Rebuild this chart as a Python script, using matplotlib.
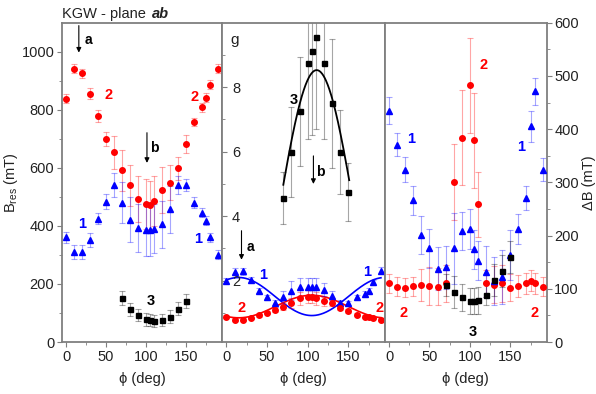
import matplotlib
matplotlib.use("Agg")
import matplotlib.pyplot as plt
import numpy as np

plt.rcParams['font.family'] = ['Liberation Sans', 'DejaVu Sans']
plt.rcParams['mathtext.fontset'] = 'custom'
plt.rcParams['mathtext.rm'] = 'Liberation Sans'
plt.rcParams['font.size'] = 10

# angles (deg)
phi = [0, 10, 20, 30, 40, 50, 60, 70, 80, 90, 100, 105, 110, 120, 130, 140, 150, 160, 170, 175, 180, 190]
phi3 = [70, 80, 90, 100, 105, 110, 120, 130, 140, 150]

# resonance field B_res (mT)
bres1 = [361, 310, 310, 351, 425, 484, 541, 480, 421, 392, 386, 385, 390, 405, 457, 541, 541, 480, 446, 418, 361, 301]
bres1_err = [19, 25, 25, 25, 20, 25, 40, 70, 77, 83, 90, 90, 85, 80, 80, 30, 20, 18, 15, 15, 15, 15]
bres2 = [838, 941, 926, 856, 779, 700, 653, 591, 540, 492, 475, 471, 486, 524, 549, 599, 682, 758, 808, 842, 886, 941]
bres2_err = [15, 15, 15, 18, 20, 25, 58, 72, 70, 80, 85, 85, 85, 80, 60, 40, 31, 15, 15, 15, 15, 15]
bres3 = [151, 113, 93, 78, 76, 72, 76, 87, 115, 142]
bres3_err = [25, 22, 20, 22, 22, 22, 22, 22, 22, 25]

# g-factor
g1 = [2.0, 2.28, 2.29, 2.02, 1.69, 1.48, 1.30, 1.48, 1.69, 1.79, 1.79, 1.79, 1.79, 1.72, 1.54, 1.30, 1.30, 1.48, 1.59, 1.69, 1.95, 2.31]
g1_err = [0.08, 0.1, 0.1, 0.1, 0.08, 0.08, 0.1, 0.2, 0.3, 0.3, 0.3, 0.3, 0.3, 0.2, 0.15, 0.1, 0.08, 0.08, 0.08, 0.08, 0.08, 0.1]
g2 = [0.89, 0.79, 0.79, 0.85, 0.93, 1.01, 1.10, 1.20, 1.31, 1.45, 1.50, 1.50, 1.45, 1.36, 1.31, 1.16, 1.06, 0.95, 0.89, 0.86, 0.85, 0.79]
g2_err = [0.04, 0.04, 0.04, 0.04, 0.04, 0.05, 0.08, 0.1, 0.15, 0.2, 0.2, 0.2, 0.2, 0.15, 0.1, 0.06, 0.05, 0.04, 0.04, 0.04, 0.04, 0.04]
g3 = [4.56, 6.0, 7.25, 8.74, 9.13, 9.55, 8.74, 7.5, 6.0, 4.76]
g3_err = [0.8, 1.4, 1.7, 2.35, 2.6, 2.85, 2.35, 2.0, 1.3, 0.9]

# fit parameters g = A + B cos(2(phi - phi0)), over phi range lo..hi
fit1 = (1.51, 0.59, 15, 0, 190)
fit2 = (1.20, 0.35, 105, 0, 190)
fit3 = (4.40, 4.13, 111, 70, 151)

# linewidth dB (mT)
db1 = [435, 371, 324, 266, 201, 176, 138, 140, 176, 209, 212, 174, 153, 132, 115, 122, 163, 213, 271, 405, 471, 324]
db1_err = [26, 22, 23, 28, 36, 37, 41, 40, 67, 36, 37, 36, 36, 48, 45, 50, 47, 28, 23, 30, 26, 22]
db2 = [110, 104, 102, 105, 107, 105, 104, 110, 301, 384, 482, 379, 259, 110, 108, 110, 102, 105, 110, 115, 110, 104]
db2_err = [18, 18, 18, 18, 30, 35, 35, 35, 72, 89, 89, 89, 61, 25, 35, 35, 25, 20, 20, 20, 20, 18]
db3 = [107, 94, 84, 77, 77, 78, 89, 116, 134, 159]
db3_err = [20, 30, 25, 25, 25, 25, 20, 30, 30, 30]

RED = '#ff0000'
BLUE = '#0000ff'
BLK = '#000000'
SPINE = '#7f7f7f'
TXT = '#222222'

fig = plt.figure(figsize=(5.96, 3.94), dpi=100)
W, H = 596, 394
bot = (H - 342) / H
hgt = (342 - 22.7) / H
ax1 = fig.add_axes([62 / W, bot, (222.3 - 62) / W, hgt])
ax2 = fig.add_axes([222.3 / W, bot, (385 - 222.3) / W, hgt])
ax3 = fig.add_axes([385 / W, bot, (546.7 - 385) / W, hgt])


def series(ax, x, y, e, color, marker, ms):
    ax.errorbar(x, y, yerr=e, fmt='none', ecolor=color, alpha=0.35,
                elinewidth=0.8, capsize=2, capthick=0.8, zorder=2)
    ax.plot(x, y, linestyle='none', marker=marker, color=color, ms=ms,
            mec=color, zorder=3)


def fitline(ax, fit, color, lw):
    A, B, p0, lo, hi = fit
    xs = np.linspace(lo, hi, 200)
    ax.plot(xs, A + B * np.cos(np.radians(2 * (xs - p0))), color=color, lw=lw, zorder=1)


def arrow(ax, x, y0, y1, label, lx, ly):
    ax.annotate('', xy=(x, y1), xytext=(x, y0),
                arrowprops=dict(arrowstyle='-|>', color='k', lw=0.8,
                                mutation_scale=7, shrinkA=0, shrinkB=0))
    ax.text(lx, ly, label, fontsize=10, fontweight='bold', ha='center', va='center')


def num(ax, x, y, s, color):
    ax.text(x, y, s, color=color, fontsize=10.5, fontweight='bold',
            ha='center', va='center')


for ax in (ax1, ax2, ax3):
    ax.set_xlim(-5, 195)
    ax.set_xticks([0, 50, 100, 150])
    ax.set_xticks([25, 75, 125, 175], minor=True)
    ax.tick_params(axis='x', which='both', direction='out', color=SPINE,
                   labelcolor=TXT, labelsize=10.5, pad=2)
    ax.tick_params(axis='x', which='major', length=3.5)
    ax.tick_params(axis='x', which='minor', length=2)
    for sp in ax.spines.values():
        sp.set_color(SPINE)
        sp.set_linewidth(1.3)
    ax.set_xlabel('ϕ (deg)', fontsize=10.5, color=TXT, labelpad=6)

# left: resonance field
series(ax1, phi, bres2, bres2_err, RED, 'o', 4.0)
series(ax1, phi, bres1, bres1_err, BLUE, '^', 4.6)
series(ax1, phi3, bres3, bres3_err, BLK, 's', 3.6)
ax1.set_ylim(0, 1100)
ax1.set_yticks([0, 200, 400, 600, 800, 1000])
ax1.set_yticks(np.arange(100, 1100, 200), minor=True)
ax1.tick_params(axis='y', which='both', direction='out', color=SPINE,
                labelcolor=TXT, labelsize=10.5, pad=2, right=False)
ax1.tick_params(axis='y', which='major', length=3.5)
ax1.tick_params(axis='y', which='minor', length=2)
ax1.set_ylabel('B$_{\\rm res}$ (mT)', fontsize=10.5, color=TXT)
ax1.yaxis.set_label_coords((20 - 62) / 160.3, 0.5)
arrow(ax1, 16, 1090, 997, 'a', 27.5, 1041)
arrow(ax1, 101, 721, 617, 'b', 110, 669)
num(ax1, 52.5, 852, '2', RED)
num(ax1, 160, 845, '2', RED)
num(ax1, 20, 407, '1', BLUE)
num(ax1, 165, 355, '1', BLUE)
num(ax1, 106, 141, '3', BLK)

# middle: g-factor with fits
fitline(ax2, fit1, BLUE, 1.2)
fitline(ax2, fit2, RED, 1.2)
fitline(ax2, fit3, BLK, 1.3)
series(ax2, phi, g1, g1_err, BLUE, '^', 4.6)
series(ax2, phi, g2, g2_err, RED, 'o', 4.0)
series(ax2, phi3, g3, g3_err, BLK, 's', 3.6)
ax2.set_ylim(0.1, 10)
ax2.set_yticks([2, 4, 6, 8])
ax2.set_yticks([1, 3, 5, 7, 9], minor=True)
ax2.tick_params(axis='y', which='both', direction='in', color=SPINE,
                labelcolor=TXT, labelsize=10.5, pad=-7, right=False)
ax2.tick_params(axis='y', which='major', length=3.5)
ax2.tick_params(axis='y', which='minor', length=2)
for lab in ax2.get_yticklabels():
    lab.set_horizontalalignment('left')
ax2.text(10, 9.45, 'g', fontsize=11, color=TXT, ha='center', va='center')
arrow(ax2, 18.6, 3.55, 2.65, 'a', 29, 3.05)
arrow(ax2, 107, 5.87, 5.0, 'b', 115.6, 5.37)
num(ax2, 82.5, 7.6, '3', BLK)
num(ax2, 44.6, 2.18, '1', BLUE)
num(ax2, 173.5, 2.26, '1', BLUE)
num(ax2, 18.6, 1.14, '2', RED)
num(ax2, 188, 1.14, '2', RED)

# right: linewidth
series(ax3, phi, db2, db2_err, RED, 'o', 4.0)
series(ax3, phi, db1, db1_err, BLUE, '^', 4.6)
series(ax3, phi3, db3, db3_err, BLK, 's', 3.6)
ax3.set_ylim(0, 600)
ax3.yaxis.tick_right()
ax3.yaxis.set_label_position('right')
ax3.set_yticks(np.arange(0, 700, 100))
ax3.set_yticks(np.arange(50, 600, 100), minor=True)
ax3.tick_params(axis='y', which='both', direction='out', color=SPINE,
                labelcolor=TXT, labelsize=10.5, pad=2, left=False)
ax3.tick_params(axis='y', which='major', length=3.5)
ax3.tick_params(axis='y', which='minor', length=2)
ax3.set_ylabel('ΔB (mT)', fontsize=10.5, color=TXT)
ax3.yaxis.set_label_coords((582 - 385) / 161.7, 0.5)
num(ax3, 27.7, 382, '1', BLUE)
num(ax3, 163.7, 366, '1', BLUE)
num(ax3, 117, 521, '2', RED)
num(ax3, 18, 54, '2', RED)
num(ax3, 180, 54, '2', RED)
num(ax3, 104, 19, '3', BLK)

# title: plain part followed by bold italic plane name
t1 = fig.text(62 / W, 1 - 14 / H, 'KGW - plane ', fontsize=10.5, color=TXT, va='center')
fig.canvas.draw()
bb = t1.get_window_extent()
fig.text(bb.x1 / W + 0.004, 1 - 14 / H, 'ab', fontsize=10.5, fontweight='bold',
         style='italic', color=TXT, va='center')

fig.savefig('out.png', dpi=100)
